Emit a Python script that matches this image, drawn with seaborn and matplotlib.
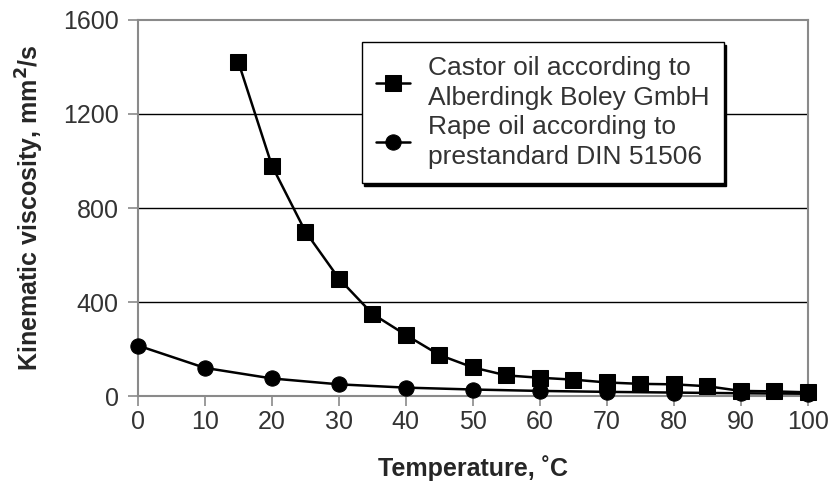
import pandas as pd
import matplotlib.pyplot as plt
import seaborn as sns

# data
castor_temp = [15, 20, 25, 30, 35, 40, 45, 50, 55, 60, 65, 70, 75, 80, 85, 90, 95, 100]
castor_visc = [1420, 980, 700, 500, 350, 260, 175, 122, 88, 78, 70, 58, 52, 50, 42, 22, 20, 16]
rape_temp = [0, 10, 20, 30, 40, 50, 60, 70, 80, 90, 100]
rape_visc = [215, 120, 75, 50, 36, 28, 22, 18, 15, 12, 10]

castor_label = 'Castor oil according to\nAlberdingk Boley GmbH'
rape_label = 'Rape oil according to\nprestandard DIN 51506'

castor = pd.DataFrame({'temp': castor_temp, 'visc': castor_visc})
rape = pd.DataFrame({'temp': rape_temp, 'visc': rape_visc})

sns.set_style('white')
plt.rcParams['font.family'] = ['Liberation Sans', 'DejaVu Sans']

fig = plt.figure(figsize=(8.31, 4.86), dpi=100)
ax = fig.add_axes([0.166, 0.185, 0.806, 0.774])

sns.lineplot(data=castor, x='temp', y='visc', ax=ax, color='black', lw=1.8,
             marker='s', markersize=12, markeredgecolor='black', label=castor_label,
             clip_on=False, zorder=4)
sns.lineplot(data=rape, x='temp', y='visc', ax=ax, color='black', lw=1.8,
             marker='o', markersize=11, markeredgecolor='black', label=rape_label,
             clip_on=False, zorder=4)

ax.set_xlim(0, 100)
ax.set_ylim(0, 1600)
ax.set_xticks(range(0, 101, 10))
ax.set_yticks(range(0, 1601, 400))

# gridlines
for y in [400, 800, 1200]:
    ax.axhline(y, color='black', lw=1, zorder=1)

for s in ax.spines.values():
    s.set_color('#8a8a8a')
    s.set_linewidth(1.5)

ax.tick_params(axis='both', labelsize=18, colors='#8a8a8a', labelcolor='#333333',
               direction='out', length=7, width=1.2, left=True, bottom=True)
ax.tick_params(axis='y', pad=7)
ax.tick_params(axis='x', pad=3)

ax.set_xlabel('Temperature, ˚C', fontsize=18, fontweight='bold', labelpad=15)
ax.set_ylabel('Kinematic viscosity, mm$^\\mathbf{2}$/s', fontsize=18, fontweight='bold', labelpad=12)

leg = ax.legend(loc='upper left', bbox_to_anchor=(0.334, 0.942), borderaxespad=0,
                fontsize=19, frameon=True, fancybox=False, handlelength=1.3,
                handletextpad=0.65, labelspacing=0.2, borderpad=0.55,
                shadow={'color': 'black', 'alpha': 1})
leg.get_frame().set_edgecolor('black')
leg.get_frame().set_linewidth(1)
for t in leg.get_texts():
    t.set_color('#333333')
    t.set_linespacing(1.3)

fig.savefig('out.png', dpi=100)
